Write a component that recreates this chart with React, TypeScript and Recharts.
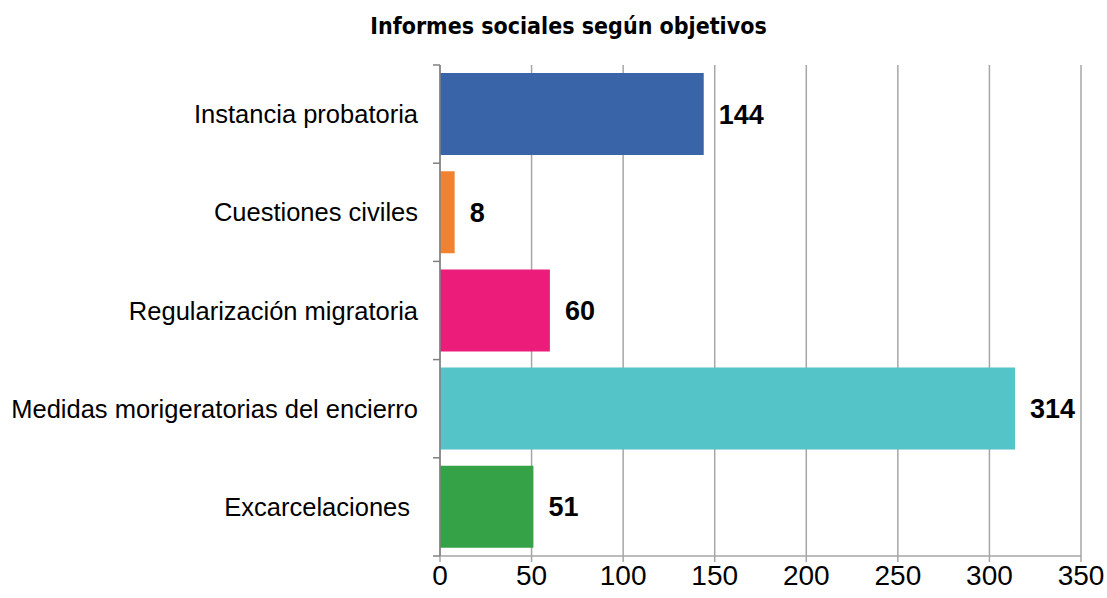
import { BarChart, Bar, XAxis, YAxis, CartesianGrid, Cell, LabelList } from 'recharts'

const categories = [
  'Instancia probatoria',
  'Cuestiones civiles',
  'Regularización migratoria',
  'Medidas morigeratorias del encierro',
  'Excarcelaciones',
]
const values = [144, 8, 60, 314, 51]
const colors = ['#3A64A8', '#F08232', '#EC1C7A', '#55C4C8', '#35A247']
const xTicks = [0, 50, 100, 150, 200, 250, 300, 350]

const data = categories.map((name, i) => ({ name, value: values[i] }))

const band = (556 - 65) / categories.length

function CategoryTick(props: any) {
  const { x, y, payload, index } = props
  const last = index === categories.length - 1
  return (
    <g>
      <line x1={x + 1} x2={x + 8} y1={y - band / 2} y2={y - band / 2} stroke="#808080" strokeWidth={1.5} />
      {last && <line x1={x + 1} x2={x + 8} y1={y + band / 2} y2={y + band / 2} stroke="#808080" strokeWidth={1.5} />}
      <text
        x={last ? x - 22 : x - 14}
        y={y}
        dy={9}
        textAnchor="end"
        fill="#000"
        fontSize={25.5}
        fontFamily="Liberation Sans, Arial, sans-serif"
      >
        {payload.value}
      </text>
    </g>
  )
}

export default function App() {
  return (
    <div style={{ position: 'absolute', left: 0, top: 0, width: 1107, height: 598, background: '#fff' }}>
      <div
        style={{
          position: 'absolute',
          left: 0,
          top: 13,
          width: 1137,
          textAlign: 'center',
          fontFamily: 'DejaVu Sans Condensed, DejaVu Sans, sans-serif',
          fontWeight: 'bold',
          fontSize: 23,
          color: '#000',
        }}
      >
        Informes sociales según objetivos
      </div>
      <BarChart
        width={1107}
        height={598}
        data={data}
        layout="vertical"
        margin={{ top: 65, right: 26, bottom: 0, left: 0 }}
        barCategoryGap={8}
      >
        <CartesianGrid horizontal={false} stroke="#A6A6A6" strokeWidth={1.5} />
        <XAxis
          type="number"
          domain={[0, 350]}
          ticks={xTicks}
          interval={0}
          height={42}
          stroke="#A6A6A6"
          axisLine={{ stroke: '#A6A6A6', strokeWidth: 1.5 }}
          tickLine={{ stroke: '#A6A6A6', strokeWidth: 1.5 }}
          tickSize={6}
          tick={{ fill: '#000', fontSize: 28, fontFamily: 'Liberation Sans, Arial, sans-serif' }}
          tickMargin={3}
        />
        <YAxis
          type="category"
          dataKey="name"
          width={440}
          axisLine={{ stroke: '#808080', strokeWidth: 1.5 }}
          tickLine={false}
          tick={<CategoryTick />}
        />
        <Bar dataKey="value" isAnimationActive={false}>
          {data.map((d, i) => (
            <Cell key={d.name} fill={colors[i]} />
          ))}
          <LabelList
            dataKey="value"
            position="right"
            offset={15}
            fill="#000"
            fontSize={27}
            fontWeight="bold"
            fontFamily="Liberation Sans, Arial, sans-serif"
          />
        </Bar>
      </BarChart>
    </div>
  )
}
